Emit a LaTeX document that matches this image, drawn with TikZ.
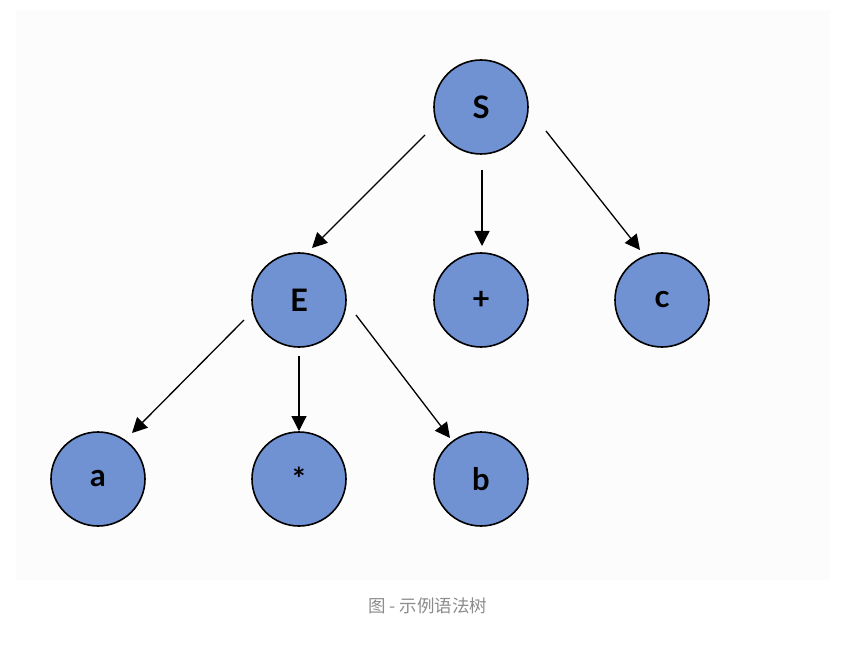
\documentclass[tikz,border=0pt]{standalone}
\usepackage{fontspec}
\setmainfont{Lato}
\newfontfamily\cjk{Noto Sans CJK SC}
\usetikzlibrary{arrows.meta}
\definecolor{nodeblue}{RGB}{112,146,210}
\definecolor{capgray}{RGB}{140,140,140}
\definecolor{bgpanel}{RGB}{252,252,252}
\tikzset{
  treenode/.style={circle,draw=black,line width=1.6pt,fill=nodeblue,minimum size=94pt,inner sep=0pt,font=\bfseries\fontsize{31}{34}\selectfont},
  edge/.style={line width=1.3pt,-{Triangle[length=15pt,width=15pt]}},
}
\begin{document}
\begin{tikzpicture}[x=1pt,y=-1pt]
\useasboundingbox (0,0) rectangle (857,647);
\fill[white] (0,0) rectangle (857,647);
\fill[bgpanel] (16,10) rectangle (830,580);
\node[treenode] (S) at (481,107) {S};
\node[treenode] (E) at (299,300) {E};
\node[treenode] (P) at (481,300) {+};
\node[treenode] (C) at (662,300) {c};
\node[treenode] (A) at (98,479) {a};
\node[treenode] (M) at (299,479) {*};
\node[treenode] (B) at (481,479) {b};
\coordinate (se0) at (425,135);  \coordinate (se1) at (312,248);
\coordinate (sp0) at (482,170);  \coordinate (sp1) at (482,246);
\coordinate (sc0) at (546,131);  \coordinate (sc1) at (640,250);
\coordinate (ea0) at (244,320);  \coordinate (ea1) at (132,433);
\coordinate (em0) at (299,356);  \coordinate (em1) at (299,431);
\coordinate (eb0) at (356,315);  \coordinate (eb1) at (450,438);
\draw[edge] (se0) -- (se1);
\draw[edge] (sp0) -- (sp1);
\draw[edge] (sc0) -- (sc1);
\draw[edge] (ea0) -- (ea1);
\draw[edge] (em0) -- (em1);
\draw[edge] (eb0) -- (eb1);
\node[text=capgray,font=\cjk\fontsize{17.5}{20}\selectfont] (cap) at (428,606) {图 - 示例语法树};
\end{tikzpicture}
\end{document}
